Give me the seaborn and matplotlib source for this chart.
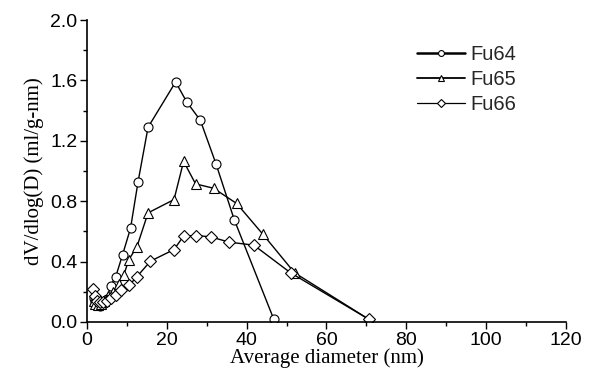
import matplotlib
matplotlib.use("Agg")
import matplotlib.pyplot as plt
import seaborn as sns
import pandas as pd
from matplotlib.ticker import MultipleLocator

sns.set_theme(style="ticks")

fu64_x = [1.7, 2.0, 2.5, 3.2, 4.0, 5.0, 5.9, 7.2, 8.9, 10.9, 12.8, 15.3, 22.2, 25.0, 28.4, 32.3, 36.9, 46.8]
fu64_y = [0.16, 0.13, 0.11, 0.105, 0.12, 0.15, 0.24, 0.30, 0.445, 0.62, 0.93, 1.29, 1.59, 1.457, 1.336, 1.049, 0.677, 0.018]

fu65_x = [1.7, 2.1, 2.7, 3.4, 4.3, 5.3, 6.5, 8.0, 9.2, 10.5, 12.5, 15.3, 21.8, 24.2, 27.2, 31.7, 37.5, 44.1, 52.0, 70.6]
fu65_y = [0.14, 0.12, 0.11, 0.12, 0.14, 0.17, 0.20, 0.25, 0.31, 0.414, 0.498, 0.723, 0.811, 1.064, 0.915, 0.886, 0.785, 0.58, 0.326, 0.018]

fu66_x = [1.6, 2.0, 2.5, 3.2, 4.0, 5.0, 6.0, 7.2, 8.5, 10.5, 12.5, 15.9, 21.8, 24.2, 27.4, 31.0, 35.6, 41.8, 51.0, 70.6]
fu66_y = [0.22, 0.17, 0.14, 0.13, 0.13, 0.14, 0.16, 0.18, 0.21, 0.242, 0.30, 0.403, 0.48, 0.569, 0.573, 0.564, 0.529, 0.509, 0.326, 0.018]

labels = ["Fu64", "Fu65", "Fu66"]
markers = ["o", "^", "D"]
msizes = [6.5, 7.5, 6]

fig = plt.figure(figsize=(6.05, 3.79), dpi=100)
ax = fig.add_axes([0.1438, 0.1504, 0.7917, 0.7966])

for xs, ys, lab, mk, ms in zip([fu64_x, fu65_x, fu66_x], [fu64_y, fu65_y, fu66_y], labels, markers, msizes):
    df = pd.DataFrame({"x": xs, "y": ys})
    sns.lineplot(data=df, x="x", y="y", ax=ax, color="black", lw=1.0, sort=False,
                 marker=mk, markersize=ms, markerfacecolor="white", markeredgecolor="black",
                 markeredgewidth=0.8, label=lab, estimator=None)

ax.set_xlim(0, 120)
ax.set_ylim(0, 2.0)
ax.xaxis.set_major_locator(MultipleLocator(20))
ax.xaxis.set_minor_locator(MultipleLocator(10))
ax.yaxis.set_minor_locator(MultipleLocator(0.2))
ax.set_yticks([0.0, 0.4, 0.8, 1.2, 1.6, 2.0])
ax.set_yticklabels(["0.0", "0.4", "0.8", "1.2", "1.6", "2.0"])
ax.tick_params(which="major", direction="out", length=5, width=1, color="black",
               labelsize=14, labelcolor="black", pad=2)
ax.tick_params(which="minor", direction="out", length=3, width=1, color="black")
for lbl in ax.get_xticklabels() + ax.get_yticklabels():
    lbl.set_family("Liberation Sans")

for s in ["top", "right"]:
    ax.spines[s].set_visible(False)
for s in ["left", "bottom"]:
    ax.spines[s].set_color("black")
    ax.spines[s].set_linewidth(1.2)

ax.set_xlabel("Average diameter (nm)", family="Liberation Serif", fontsize=15, color="black", labelpad=0)
ax.set_ylabel("dV/dlog(D) (ml/g-nm)", family="Liberation Serif", fontsize=15, color="black", labelpad=4)

leg = ax.legend(loc="upper left", bbox_to_anchor=(0.672, 0.945), frameon=False,
                prop={"family": "Liberation Sans", "size": 14.5}, handlelength=2.4,
                handletextpad=0.25, labelspacing=0.3, markerscale=0.65, borderaxespad=0)
for h, w in zip(leg.get_lines(), [1.8, 1.3, 0.9]):
    h.set_linewidth(w)

fig.savefig("out.png", dpi=100)
